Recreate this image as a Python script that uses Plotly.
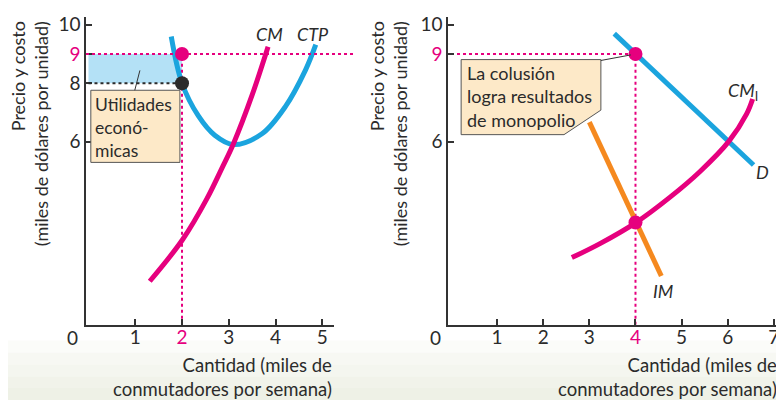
import plotly.graph_objects as go

# Left panel: single firm (CTP = average total cost, CM = marginal cost)
ctp_x = [1.77, 2.0, 2.35, 2.7, 3.1, 3.71, 4.21, 4.64, 4.86]
ctp_y = [9.6, 8.0, 6.88, 6.22, 5.9, 6.27, 7.2, 8.45, 9.32]
cm_x = [1.31, 2.01, 2.53, 2.88, 3.1, 3.5, 3.84]
cm_y = [1.22, 2.64, 4.04, 5.18, 5.93, 7.6, 9.25]
left_q, left_price, left_cost = 2, 9, 8

# Right panel: industry (D = demand, IM = marginal revenue, CM_I = industry marginal cost)
d_x = [3.54, 6.56]
d_y = [9.7, 5.2]
im_x = [3.0, 4.56]
im_y = [6.67, 1.4]
cmi_x = [2.62, 3.23, 4.01, 4.75, 5.4, 6.02, 6.41, 6.54]
cmi_y = [2.03, 2.51, 3.23, 4.1, 4.98, 6.0, 6.95, 7.46]
right_q, right_price, right_mc = 4, 9, 3.23

left_xticks = [1, 2, 3, 4, 5]
right_xticks = [1, 2, 3, 4, 5, 6, 7]
left_yticks = [6, 8, 9, 10]
right_yticks = [6, 9, 10]

PINK = "#e6007e"
BLUE = "#1ba4de"
ORANGE = "#f5891f"
DARK = "#2b2b2b"
BEIGE = "#fde9c8"
FONT = "Lato"

# page body has an 8px margin, so the figure is 8px smaller than the window
OFF, W, H = 8, 776, 392


def px_x(px):
    return (px - OFF) / W


def px_y(py):
    return 1 - (py - OFF) / H


xdom_l = [px_x(86), px_x(334)]
xdom_r = [px_x(448), 1.0]
ydom = [px_y(324), px_y(13)]
yrange = [-0.27, 10.27]


def tick_text(vals, hl):
    return [f"<span style='color:{PINK}'>{v}</span>" if v == hl else str(v) for v in vals]


def y_paper(v):
    return ydom[0] + (v - yrange[0]) / (yrange[1] - yrange[0]) * (ydom[1] - ydom[0])


fig = go.Figure()

# curves
fig.add_trace(go.Scatter(x=ctp_x, y=ctp_y, mode="lines", line=dict(color=BLUE, width=5, shape="spline"),
                         xaxis="x", yaxis="y"))
fig.add_trace(go.Scatter(x=cm_x, y=cm_y, mode="lines", line=dict(color=PINK, width=5, shape="spline"),
                         xaxis="x", yaxis="y"))
fig.add_trace(go.Scatter(x=d_x, y=d_y, mode="lines", line=dict(color=BLUE, width=5),
                         xaxis="x2", yaxis="y2"))
fig.add_trace(go.Scatter(x=cmi_x, y=cmi_y, mode="lines", line=dict(color=PINK, width=5, shape="spline"),
                         xaxis="x2", yaxis="y2"))
fig.add_trace(go.Scatter(x=im_x, y=im_y, mode="lines", line=dict(color=ORANGE, width=5),
                         xaxis="x2", yaxis="y2"))

# points
fig.add_trace(go.Scatter(x=[left_q], y=[left_price], mode="markers", marker=dict(color=PINK, size=14),
                         xaxis="x", yaxis="y", cliponaxis=False))
fig.add_trace(go.Scatter(x=[left_q], y=[left_cost], mode="markers", marker=dict(color=DARK, size=14),
                         xaxis="x", yaxis="y", cliponaxis=False))
fig.add_trace(go.Scatter(x=[right_q, right_q], y=[right_price, right_mc], mode="markers",
                         marker=dict(color=PINK, size=14), xaxis="x2", yaxis="y2", cliponaxis=False))

shapes = []
# soft background gradient at the bottom
bands = [(340, 352, "#fbfcf9"), (352, 364, "#f7f8f3"), (364, 376, "#f4f6ef"),
         (376, 388, "#f1f3ea"), (388, 400, "#eef1e6")]
for p0, p1, c in bands:
    shapes.append(dict(type="rect", xref="paper", yref="paper", x0=0, x1=1, y0=px_y(p1), y1=px_y(p0),
                       fillcolor=c, line_width=0, layer="below"))
# economic profit rectangle
shapes.append(dict(type="rect", xref="x", yref="y", x0=0, x1=left_q, y0=left_cost, y1=left_price,
                   fillcolor="#b4e1f6", line_width=0, layer="below"))
# guide lines, left
shapes.append(dict(type="line", xref="paper", yref="paper", x0=xdom_l[0], x1=px_x(353),
                   y0=y_paper(left_price), y1=y_paper(left_price), line=dict(color=PINK, width=2, dash="dot")))
shapes.append(dict(type="line", xref="x", yref="y", x0=0, x1=left_q, y0=left_cost, y1=left_cost,
                   line=dict(color=DARK, width=2, dash="dot")))
shapes.append(dict(type="line", xref="x", yref="y", x0=left_q, x1=left_q, y0=yrange[0], y1=left_price,
                   line=dict(color=PINK, width=2, dash="dot"), layer="below"))
# guide lines, right
shapes.append(dict(type="line", xref="x2", yref="y2", x0=0, x1=right_q, y0=right_price, y1=right_price,
                   line=dict(color=PINK, width=2, dash="dot"), layer="below"))
shapes.append(dict(type="line", xref="x2", yref="y2", x0=right_q, x1=right_q, y0=yrange[0], y1=right_price,
                   line=dict(color=PINK, width=2, dash="dot"), layer="below"))
# callout boxes
shapes.append(dict(type="rect", xref="x", yref="y", x0=0.05, x1=1.955, y0=5.29, y1=7.76,
                   fillcolor=BEIGE, line=dict(color="#555", width=1)))
shapes.append(dict(type="line", xref="x", yref="y", x0=0.99, x1=1.10, y0=7.76, y1=8.44,
                   line=dict(color="#333", width=1)))
shapes.append(dict(type="path", xref="x2", yref="y2",
                   path="M 0.22 8.81 L 3.25 8.81 L 3.25 7.08 L 2.45 6.24 L 0.22 6.24 Z",
                   fillcolor=BEIGE, line=dict(color="#555", width=1)))
shapes.append(dict(type="line", xref="x2", yref="y2", x0=3.25, x1=3.9, y0=8.78, y1=8.97,
                   line=dict(color="#333", width=1)))

ann = []
lbl = dict(family=FONT, size=18, color=DARK)
ann.append(dict(xref="x", yref="y", x=0.1, y=6.47, text="Utilidades<br>econó-<br>micas", align="left",
                xanchor="left", yanchor="middle", showarrow=False, font=dict(family=FONT, size=17.5, color=DARK)))
ann.append(dict(xref="x2", yref="y2", x=0.3, y=7.54, text="La colusión<br>logra resultados<br>de monopolio",
                align="left", xanchor="left", yanchor="middle", showarrow=False,
                font=dict(family=FONT, size=18, color=DARK)))
ann.append(dict(xref="x", yref="y", x=3.88, y=9.7, text="<i>CM</i>", showarrow=False, font=lbl))
ann.append(dict(xref="x", yref="y", x=4.8, y=9.7, text="<i>CTP</i>", showarrow=False, font=lbl))
ann.append(dict(xref="x2", yref="y2", x=6.33, y=7.73, text="<i>CM</i><sub>I</sub>", showarrow=False, font=lbl))
ann.append(dict(xref="x2", yref="y2", x=6.75, y=4.95, text="<i>D</i>", showarrow=False, font=lbl))
ann.append(dict(xref="x2", yref="y2", x=4.6, y=0.88, text="<i>IM</i>", showarrow=False, font=lbl))
for zero_px, title_right, ytitle_px in [(72, 334, 29), (435, 779, 388)]:
    ann.append(dict(xref="paper", yref="paper", x=px_x(zero_px), y=px_y(337), text="0", showarrow=False,
                    xanchor="center", yanchor="middle", font=dict(family=FONT, size=19, color=DARK)))
    ann.append(dict(xref="paper", yref="paper", x=px_x(title_right), y=px_y(376.5),
                    text="Cantidad (miles de<br>conmutadores por semana)", align="right",
                    xanchor="right", yanchor="middle", showarrow=False, font=dict(family=FONT, size=18.5, color=DARK)))
    ann.append(dict(xref="paper", yref="paper", x=px_x(ytitle_px), y=px_y(131.5),
                    text="Precio y costo<br>(miles de dólares por unidad)", textangle=-90, align="right",
                    xanchor="center", yanchor="middle", showarrow=False,
                    font=dict(family=FONT, size=18, color=DARK)))

axis_common = dict(showgrid=False, zeroline=False, showline=True, linecolor="#333", linewidth=1.5,
                   ticks="inside", ticklen=6, tickcolor="#333", tickwidth=1.5,
                   tickfont=dict(family=FONT, size=19, color=DARK))

fig.update_layout(
    width=W, height=H, margin=dict(l=0, r=0, t=0, b=0),
    paper_bgcolor="white", plot_bgcolor="rgba(0,0,0,0)", showlegend=False,
    xaxis=dict(domain=xdom_l, range=[-0.053, 5.25], anchor="y", tickvals=left_xticks,
               ticktext=tick_text(left_xticks, left_q), ticklabelstandoff=-5, **axis_common),
    yaxis=dict(domain=ydom, range=yrange, anchor="x", tickvals=left_yticks,
               ticktext=tick_text(left_yticks, left_price), **axis_common),
    xaxis2=dict(domain=xdom_r, range=[-0.065, 7.22], anchor="y2", tickvals=right_xticks,
                ticktext=tick_text(right_xticks, right_q), ticklabelstandoff=-5, **axis_common),
    yaxis2=dict(domain=ydom, range=yrange, anchor="x2", tickvals=right_yticks,
                ticktext=tick_text(right_yticks, right_price), **axis_common),
    shapes=shapes, annotations=ann,
)

fig.write_html("out.html")
